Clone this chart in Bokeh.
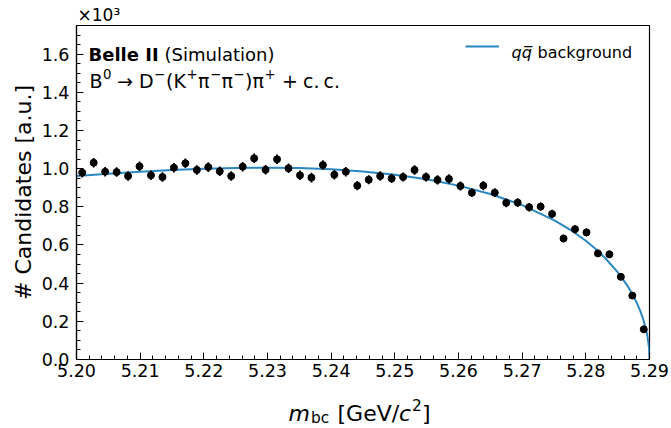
from bokeh.plotting import figure
from bokeh.layouts import column
from bokeh.models import (Range1d, FixedTicker, NumeralTickFormatter, Label,
                          Legend, LegendItem, ColumnDataSource)
from bokeh.embed import file_html
from bokeh.resources import INLINE

# ---------------- data ----------------
mbc = [5.2009, 5.2027, 5.2045, 5.2063, 5.2081, 5.2099, 5.2117, 5.2135, 5.2153, 5.2171,
       5.2189, 5.2207, 5.2225, 5.2243, 5.2261, 5.2279, 5.2297, 5.2315, 5.2333, 5.2351,
       5.2369, 5.2387, 5.2405, 5.2423, 5.2441, 5.2459, 5.2477, 5.2495, 5.2513, 5.2531,
       5.2549, 5.2567, 5.2585, 5.2603, 5.2621, 5.2639, 5.2657, 5.2675, 5.2693, 5.2711,
       5.2729, 5.2747, 5.2765, 5.2783, 5.2801, 5.2819, 5.2837, 5.2855, 5.2873, 5.2891]
counts = [0.979, 1.031, 0.984, 0.982, 0.961, 1.012, 0.965, 0.956, 1.005, 1.028,
          0.993, 1.008, 0.986, 0.961, 1.010, 1.054, 0.994, 1.049, 1.002, 0.965,
          0.953, 1.019, 0.968, 0.984, 0.911, 0.942, 0.961, 0.949, 0.956, 0.993,
          0.956, 0.941, 0.946, 0.909, 0.874, 0.911, 0.874, 0.821, 0.822, 0.798,
          0.801, 0.763, 0.634, 0.683, 0.666, 0.556, 0.551, 0.433, 0.335, 0.158]
errors = [0.025, 0.025, 0.025, 0.025, 0.025, 0.025, 0.025, 0.025, 0.025, 0.025,
          0.025, 0.025, 0.025, 0.025, 0.025, 0.025, 0.025, 0.025, 0.025, 0.025,
          0.025, 0.025, 0.025, 0.025, 0.024, 0.024, 0.025, 0.024, 0.024, 0.025,
          0.024, 0.024, 0.024, 0.024, 0.023, 0.024, 0.023, 0.023, 0.023, 0.022,
          0.022, 0.022, 0.020, 0.021, 0.020, 0.019, 0.019, 0.016, 0.014, 0.010]

fit_mbc = [5.200, 5.205, 5.210, 5.215, 5.220, 5.225, 5.230, 5.235, 5.240, 5.245,
           5.250, 5.255, 5.260, 5.265, 5.270, 5.275, 5.2775, 5.280, 5.2815, 5.283,
           5.285, 5.2865, 5.287, 5.288, 5.2885, 5.289, 5.2895, 5.2897, 5.2899, 5.28995, 5.290]
fit_val = [0.961, 0.973, 0.984, 0.993, 0.999, 1.004, 1.005, 1.003, 0.997, 0.985,
           0.968, 0.944, 0.911, 0.867, 0.809, 0.730, 0.681, 0.622, 0.580, 0.533,
           0.458, 0.388, 0.361, 0.297, 0.259, 0.212, 0.151, 0.117, 0.068, 0.048, 0.0]

x_ticks = [5.20, 5.21, 5.22, 5.23, 5.24, 5.25, 5.26, 5.27, 5.28, 5.29]
x_tick_labels = ["5.20", "5.21", "5.22", "5.23", "5.24", "5.25", "5.26", "5.27", "5.28", "5.29"]
y_ticks = [0.0, 0.2, 0.4, 0.6, 0.8, 1.0, 1.2, 1.4, 1.6]
y_tick_labels = ["0.0", "0.2", "0.4", "0.6", "0.8", "1.0", "1.2", "1.4", "1.6"]

legend_label = "qq\u0305 background"
scale_label = "\u00d710\u00b3"

# ---------------- layout (page pixels) ----------------
W, H = 671, 428
BOT_H = 41
MAIN_H = H - BOT_H
FL, FR, FT, FB = 76, 649, 25, 359          # frame edges in page pixels
XMIN, XMAX, YMIN, YMAX = 5.20, 5.29, 0.0, 1.75
FW, FH = FR - FL, FB - FT
BLUE = "#2a87c2"
FONT = "DejaVu Sans"


def px2x(px):
    return XMIN + (px - FL) / FW * (XMAX - XMIN)


def px2y(py):
    return YMIN + (FB - py) / FH * (YMAX - YMIN)


p = figure(width=W, height=MAIN_H, output_backend="svg", toolbar_location=None,
           x_range=Range1d(XMIN, XMAX), y_range=Range1d(YMIN, YMAX),
           min_border_left=FL, min_border_right=W - FR,
           min_border_top=FT, min_border_bottom=MAIN_H - FB,
           title=scale_label)
p.title.align = "left"
p.title.offset = 1
p.title.standoff = 2
p.title.text_font = FONT
p.title.text_font_size = "17px"
p.title.text_font_style = "normal"
p.title.text_color = "black"
p.xgrid.visible = False
p.ygrid.visible = False
p.outline_line_color = "black"
p.outline_line_width = 1.2
p.outline_line_alpha = 1.0
p.background_fill_color = "white"
p.border_fill_color = "white"

x_minor = [round(5.20 + 0.002 * i, 3) for i in range(46)]
y_minor = [round(0.05 * i, 2) for i in range(36)]
p.xaxis.ticker = FixedTicker(ticks=x_ticks, minor_ticks=x_minor)
p.yaxis.ticker = FixedTicker(ticks=y_ticks, minor_ticks=y_minor)
p.xaxis.formatter = NumeralTickFormatter(format="0.00")
p.yaxis.formatter = NumeralTickFormatter(format="0.0")
p.xaxis.major_label_overrides = dict(zip(x_ticks, x_tick_labels))
p.yaxis.major_label_overrides = dict(zip(y_ticks, y_tick_labels))

for ax in (p.xaxis[0], p.yaxis[0]):
    ax.major_tick_in = 7
    ax.major_tick_out = 0
    ax.minor_tick_in = 4
    ax.minor_tick_out = 0
    ax.major_tick_line_color = "black"
    ax.minor_tick_line_color = "black"
    ax.axis_line_color = "black"
    ax.axis_line_width = 1.2
    ax.major_label_text_font = FONT
    ax.major_label_text_font_size = "17.5px"
    ax.major_label_text_color = "black"

p.xaxis.major_label_standoff = 4
p.yaxis.major_label_standoff = 7
p.xaxis.axis_label = None
p.yaxis.axis_label = "# Candidates [a.u.]"
p.yaxis.axis_label_text_font = FONT
p.yaxis.axis_label_text_font_size = "22px"
p.yaxis.axis_label_text_font_style = "normal"
p.yaxis.axis_label_text_color = "black"
p.yaxis.axis_label_standoff = 3

# ---------------- glyphs ----------------
src = ColumnDataSource(dict(
    mbc=mbc, counts=counts,
    lo=[c - e for c, e in zip(counts, errors)],
    hi=[c + e for c, e in zip(counts, errors)],
))
curve = p.line(fit_mbc, fit_val, line_color=BLUE, line_width=2)
p.segment(x0="mbc", y0="lo", x1="mbc", y1="hi", source=src, line_color="black", line_width=1.8)
p.scatter("mbc", "counts", source=src, size=7, fill_color="black", line_color="black")

# ---------------- legend ----------------
leg = Legend(items=[LegendItem(label=legend_label, renderers=[curve])],
             location="top_right", glyph_width=34, glyph_height=20, label_height=20,
             label_width=127, label_standoff=12, padding=0, margin=11, spacing=0,
             background_fill_alpha=0, border_line_alpha=0, label_text_alpha=0,
             label_text_font=FONT, label_text_font_size="16px")
p.add_layout(leg)


def add_text(fig, x, y, text, size, style="normal"):
    fig.add_layout(Label(x=x, y=y, text=text, text_font=FONT,
                         text_font_size=size, text_font_style=style, text_color="black",
                         text_baseline="alphabetic", text_align="left"))


def main_text(px, py, text, size, style="normal"):
    add_text(p, px2x(px), px2y(py), text, size, style)


# legend text
main_text(511, 52, "qq\u0305", "16px", "italic")
main_text(537, 52, "background", "16px")

# experiment text
main_text(88, 54, "Belle II", "18px", "bold")
main_text(164, 54, "(Simulation)", "18px")

# decay line: (text, x, raise, size)
BASE, SUP = "19px", "13.3px"
decay = [("B", 89, 0, BASE), ("0", 102.5, 7, SUP), ("\u2192", 116.5, 0, BASE),
         ("D", 138.5, 0, BASE), ("\u2212", 153.5, 7, SUP), ("(", 165.5, 0, BASE),
         ("K", 173, 0, BASE), ("+", 186, 7, SUP), ("\u03c0", 197.5, 0, BASE),
         ("\u2212", 209.5, 7, SUP), ("\u03c0", 221, 0, BASE), ("\u2212", 232.8, 7, SUP),
         (")", 244.4, 0, BASE), ("\u03c0", 252, 0, BASE), ("+", 264, 7, SUP),
         ("+", 281.5, 0, BASE), ("c.", 302.5, 0, BASE), ("c.", 323, 0, BASE)]
for t, x, r, s in decay:
    main_text(x, 80 - r, t, s)

# bottom strip: x axis label  m_bc [GeV/c^2]
# frame aligned with the main frame (column layouts align plot frames);
# x in page pixels, y in strip pixels from the top
bot = figure(width=W, height=BOT_H, output_backend="svg", toolbar_location=None,
             x_range=Range1d(FL, FR), y_range=Range1d(BOT_H, 0),
             x_axis_type=None, y_axis_type=None,
             min_border_left=FL, min_border_right=W - FR,
             min_border_top=0, min_border_bottom=0)
bot.title.visible = False
bot.outline_line_color = None
bot.background_fill_color = "white"
bot.border_fill_color = "white"
bot.xgrid.visible = False
bot.ygrid.visible = False

yb = 413 - (H - BOT_H)
add_text(bot, 288, yb, "m", "22px", "italic")
add_text(bot, 310.5, yb + 4, "bc", "15.4px")
add_text(bot, 337, yb, "[GeV/", "22px")
add_text(bot, 398.5, yb, "c", "22px", "italic")
add_text(bot, 411.5, yb - 9, "2", "15.4px")
add_text(bot, 421.5, yb, "]", "22px")

layout = column(p, bot, spacing=0)
open("out.html", "w").write(file_html(layout, INLINE))
